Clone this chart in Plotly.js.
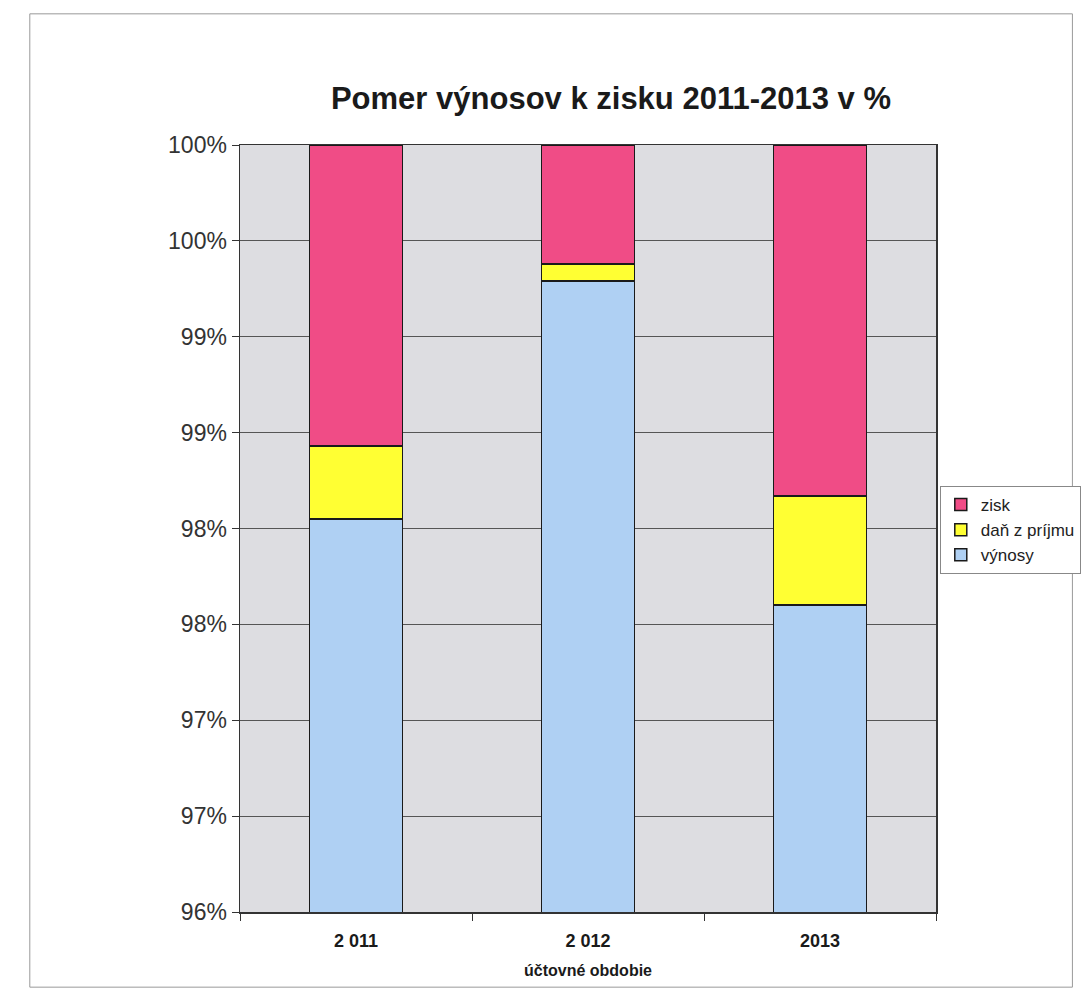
<!DOCTYPE html>
<html>
<head>
<meta charset="utf-8">
<script src="https://cdn.plot.ly/plotly-3.0.1.min.js"></script>
<style>
html,body{margin:0;padding:0;background:#fff;}
#chart{width:1092px;height:1003px;}
</style>
</head>
<body>
<div id="chart"></div>
<script>
const categories = ["2 011", "2 012", "2013"];
const vynosy = [98.05, 99.29, 97.60];
const danZPrijmu = [0.38, 0.09, 0.57];
const zisk = [1.57, 0.62, 1.83];
const yTickVals = [96, 96.5, 97, 97.5, 98, 98.5, 99, 99.5, 100];
const yTickText = ["96%", "97%", "97%", "98%", "98%", "99%", "99%", "100%", "100%"];

const font = "Liberation Sans, Arial, sans-serif";
const line = {color: "#1a1a1a", width: 1.5};

const traces = [
  {type: "bar", name: "výnosy", x: categories, y: vynosy, marker: {color: "#AFD0F3", line: line}},
  {type: "bar", name: "daň z príjmu", x: categories, y: danZPrijmu, marker: {color: "#FFFF33", line: line}},
  {type: "bar", name: "zisk", x: categories, y: zisk, marker: {color: "#F04C86", line: line}}
];

const layout = {
  width: 1092, height: 1003,
  paper_bgcolor: "#ffffff",
  plot_bgcolor: "#DDDDE1",
  barmode: "stack",
  bargap: 0.6,
  margin: {l: 240, r: 155, t: 145, b: 91},
  title: {text: "<b>Pomer výnosov k zisku 2011-2013 v %</b>", font: {family: font, size: 31, color: "#1a1a1a"}, x: 0.5595, xanchor: "center", y: 0.902, yanchor: "middle"},
  xaxis: {
    type: "category",
    showline: true, linecolor: "#333", linewidth: 1.5, mirror: true,
    ticks: "outside", tickson: "boundaries", ticklen: 7, tickcolor: "#333",
    ticklabelstandoff: 12,
    tickfont: {family: font, size: 18, color: "#1a1a1a", weight: "bold"},
    title: {text: "<b>účtovné obdobie</b>", font: {family: font, size: 16, color: "#1a1a1a"}, standoff: 14},
    showgrid: false
  },
  yaxis: {
    range: [96, 100],
    tickvals: yTickVals, ticktext: yTickText,
    showline: true, linecolor: "#333", linewidth: 1.5, mirror: true,
    ticks: "outside", ticklen: 7, tickcolor: "#333",
    tickfont: {family: font, size: 23, color: "#333"},
    showgrid: true, gridcolor: "#555", gridwidth: 1,
    zeroline: false
  },
  legend: {
    x: 1.004, xanchor: "left", y: 0.498, yanchor: "middle",
    traceorder: "reversed",
    bordercolor: "#888", borderwidth: 1, bgcolor: "#fff",
    font: {family: font, size: 17, color: "#222"},
    itemwidth: 30, tracegroupgap: 0
  },
  shapes: [
    {type: "rect", xref: "paper", yref: "paper", x0: -0.302, x1: 1.196, y0: -0.098, y1: 1.171,
     line: {color: "#999", width: 1}, fillcolor: "rgba(0,0,0,0)", layer: "below"}
  ]
};

Plotly.newPlot("chart", traces, layout, {displayModeBar: false, staticPlot: true});
</script>
</body>
</html>
